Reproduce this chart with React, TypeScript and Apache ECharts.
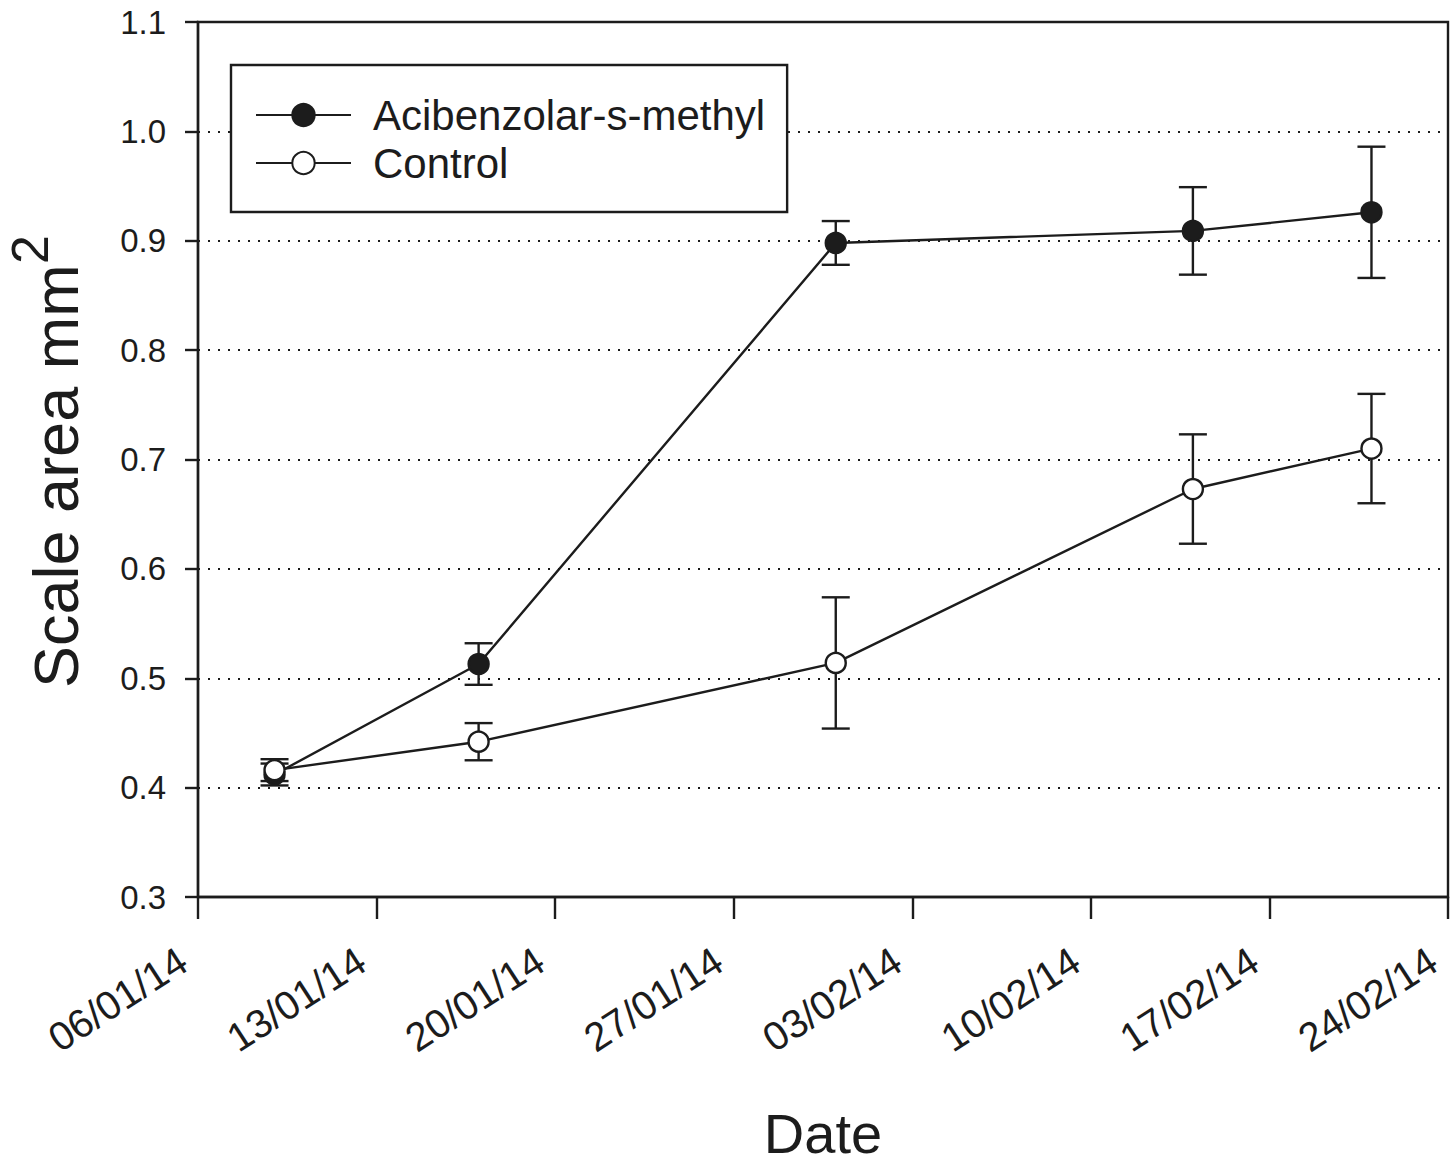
import React, { useEffect, useRef } from 'react';
import * as echarts from 'echarts';

// ---- data ----
const xTickLabels = ['06/01/14', '13/01/14', '20/01/14', '27/01/14', '03/02/14', '10/02/14', '17/02/14', '24/02/14'];
const axisStartDate = '2014-01-06';
const sampleDates = ['2014-01-09', '2014-01-17', '2014-01-31', '2014-02-14', '2014-02-21'];

const asmName = 'Acibenzolar-s-methyl';
const asmMean = [0.412, 0.513, 0.898, 0.909, 0.926];
const asmErr = [0.010, 0.019, 0.020, 0.040, 0.060];

const controlName = 'Control';
const controlMean = [0.416, 0.442, 0.514, 0.673, 0.710];
const controlErr = [0.010, 0.017, 0.060, 0.050, 0.050];

const yMin = 0.3;
const yMax = 1.1;
const yStep = 0.1;

const yTitle = 'Scale area mm';
const yTitleSup = '2';
const xTitle = 'Date';

const INK = '#1c1c1c';
const FONT = '"Liberation Sans", Arial, Helvetica, sans-serif';
const W = 1456;
const H = 1168;

const DAY = 86400000;
const dayOffset = (d: string) => (Date.parse(d) - Date.parse(axisStartDate)) / DAY;
const xDays = sampleDates.map(dayOffset);
const xMax = (xTickLabels.length - 1) * 7;

function errorBarSeries(mean: number[], err: number[]) {
  return {
    type: 'custom',
    silent: true,
    z: 1,
    encode: { x: 0, y: [1, 2] },
    data: mean.map((m, i) => [xDays[i], m - err[i], m + err[i]]),
    renderItem: (params: any, api: any) => {
      const x = api.value(0);
      const lo = api.coord([x, api.value(1)]);
      const hi = api.coord([x, api.value(2)]);
      const hw = 14;
      const style = { stroke: INK, lineWidth: 2.4, fill: null };
      return {
        type: 'group',
        children: [
          { type: 'line', shape: { x1: lo[0], y1: lo[1], x2: hi[0], y2: hi[1] }, style },
          { type: 'line', shape: { x1: lo[0] - hw, y1: lo[1], x2: lo[0] + hw, y2: lo[1] }, style },
          { type: 'line', shape: { x1: hi[0] - hw, y1: hi[1], x2: hi[0] + hw, y2: hi[1] }, style },
        ],
      };
    },
  };
}

export default function App() {
  const ref = useRef<HTMLDivElement>(null);
  useEffect(() => {
    if (!ref.current) return;
    const chart = echarts.init(ref.current, null, { renderer: 'svg', width: W, height: H });
    const option: any = {
      animation: false,
      backgroundColor: '#ffffff',
      textStyle: { fontFamily: FONT, color: INK },
      grid: {
        left: 198,
        right: 8,
        top: 22,
        bottom: H - 897,
        containLabel: false,
        outerBoundsMode: 'none',
        show: true,
        borderColor: INK,
        borderWidth: 2.4,
        backgroundColor: 'transparent',
      },
      legend: {
        left: 231,
        top: 65,
        orient: 'vertical',
        padding: [29, 22, 28, 24],
        itemWidth: 95,
        itemHeight: 28,
        itemGap: 6,
        borderColor: INK,
        borderWidth: 2.4,
        backgroundColor: '#ffffff',
        textStyle: { fontSize: 42, fontFamily: FONT, color: INK, padding: [0, 0, 0, 17], lineHeight: 42 },
        data: [asmName, controlName],
      },
      xAxis: {
        type: 'value',
        min: 0,
        max: xMax,
        interval: 7,
        axisLine: { show: true, lineStyle: { color: INK, width: 2.4 } },
        axisTick: { show: true, length: 22, lineStyle: { color: INK, width: 2.4 } },
        axisLabel: {
          rotate: 33,
          fontSize: 40,
          fontFamily: FONT,
          color: INK,
          margin: 50,
          padding: [0, 18, 0, 0],
          formatter: (v: number) => xTickLabels[Math.round(v / 7)] ?? '',
        },
        splitLine: { show: false },
        name: xTitle,
        nameLocation: 'middle',
        nameGap: 214,
        nameTextStyle: { fontSize: 56, lineHeight: 44, fontFamily: FONT, color: INK },
      },
      yAxis: {
        type: 'value',
        min: yMin,
        max: yMax,
        interval: yStep,
        axisLine: { show: true, lineStyle: { color: INK, width: 2.4 } },
        axisTick: { show: true, length: 13, lineStyle: { color: INK, width: 2.4 } },
        axisLabel: {
          fontSize: 33,
          fontFamily: FONT,
          color: INK,
          margin: 32,
          formatter: (v: number) => v.toFixed(1),
        },
        splitLine: { show: true, lineStyle: { color: INK, width: 2, type: [2, 8] } },
      },
      graphic: [
        {
          type: 'group',
          x: 56,
          y: 688,
          rotation: Math.PI / 2,
          silent: true,
          children: [
            {
              type: 'text',
              x: 0,
              y: 0,
              style: { text: yTitle, fontSize: 63, fontFamily: FONT, fill: INK, align: 'left', verticalAlign: 'middle' },
            },
            {
              type: 'text',
              x: 424,
              y: -26,
              style: { text: yTitleSup, fontSize: 52, fontFamily: FONT, fill: INK, align: 'left', verticalAlign: 'middle' },
            },
          ],
        },
      ],
      series: [
        errorBarSeries(asmMean, asmErr),
        errorBarSeries(controlMean, controlErr),
        {
          name: asmName,
          type: 'line',
          z: 3,
          data: asmMean.map((m, i) => [xDays[i], m]),
          symbol: 'circle',
          symbolSize: 20,
          lineStyle: { color: INK, width: 2.4 },
          itemStyle: { color: INK, borderColor: INK, borderWidth: 2.4 },
        },
        {
          name: controlName,
          type: 'line',
          z: 4,
          data: controlMean.map((m, i) => [xDays[i], m]),
          symbol: 'circle',
          symbolSize: 20,
          lineStyle: { color: INK, width: 2.4 },
          itemStyle: { color: '#ffffff', borderColor: INK, borderWidth: 2.4 },
        },
      ],
    };
    chart.setOption(option);
    return () => chart.dispose();
  }, []);
  return (
    <div
      ref={ref}
      style={{ position: 'absolute', left: 0, top: 0, width: W, height: H, background: '#fff' }}
    />
  );
}
